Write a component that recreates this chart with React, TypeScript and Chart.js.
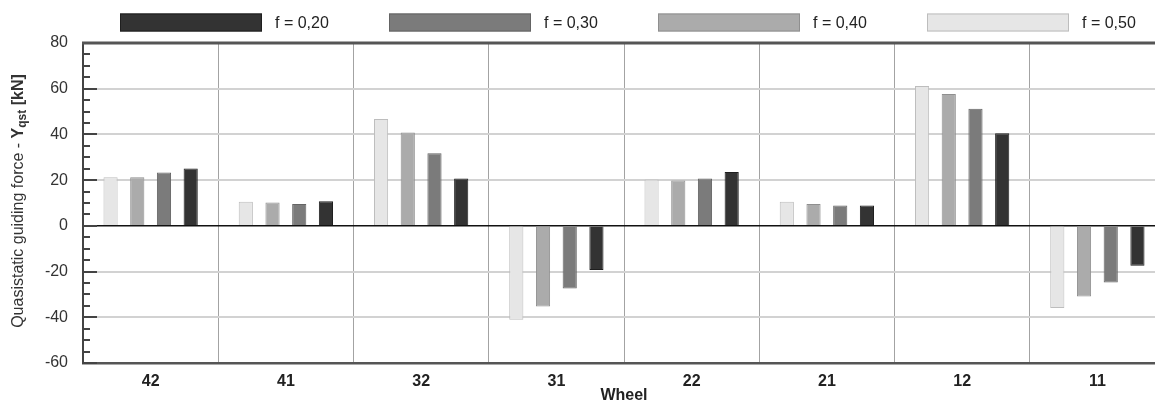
import React, { useEffect, useRef } from "react";
import { Chart, registerables } from "chart.js";

Chart.register(...registerables);

const FONT = "'Liberation Sans', Arial, Helvetica, sans-serif";

// Categories (wheel numbers)
const wheels = ["42", "41", "32", "31", "22", "21", "12", "11"];

// Series values [kN]
const f050 = [21.3, 10.6, 46.7, -41.1, 20.3, 10.5, 61.2, -35.9];
const f040 = [21.3, 10.2, 40.8, -35.3, 19.8, 9.6, 57.7, -30.9];
const f030 = [23.3, 9.6, 31.8, -27.4, 20.7, 8.9, 51.2, -24.8];
const f020 = [25.1, 10.8, 20.7, -19.3, 23.6, 8.9, 40.5, -17.4];

const seriesLabels = ["f = 0,50", "f = 0,40", "f = 0,30", "f = 0,20"];

// Axis range / ticks
const yMin = -60;
const yMax = 80;
const yStep = 20;
const yMinorStep = 5;

const xTitle = "Wheel";

const fills = ["#e6e6e6", "#ababab", "#7b7b7b", "#333333"];
const borders = ["#bdbdbd", "#8f8f8f", "#646464", "#1f1f1f"];

const overlayPlugin = {
  id: "overlay",
  afterDraw(chart: any) {
    const { ctx, chartArea } = chart;
    const y = chart.scales.y;
    ctx.save();

    // inner tick marks on y axis
    ctx.strokeStyle = "#444";
    ctx.lineWidth = 2;
    for (let v = yMin; v <= yMax; v += yMinorStep) {
      const py = Math.round(y.getPixelForValue(v));
      const len = v % yStep === 0 ? 14 : 7;
      ctx.beginPath();
      ctx.moveTo(chartArea.left, py);
      ctx.lineTo(chartArea.left + len, py);
      ctx.stroke();
    }

    // top border
    ctx.strokeStyle = "#555";
    ctx.lineWidth = 3;
    ctx.beginPath();
    ctx.moveTo(chartArea.left - 1, chartArea.top);
    ctx.lineTo(chartArea.right, chartArea.top);
    ctx.stroke();

    // y axis title with subscript
    const segs = [
      { t: "Quasistatic guiding force - ", font: `16px ${FONT}`, dy: 0 },
      { t: "Y", font: `bold 16px ${FONT}`, dy: 0 },
      { t: "qst", font: `bold 12px ${FONT}`, dy: 4 },
      { t: " [kN]", font: `bold 16px ${FONT}`, dy: 0 },
    ];
    let total = 0;
    const widths: number[] = [];
    for (const s of segs) {
      ctx.font = s.font;
      const w = ctx.measureText(s.t).width;
      widths.push(w);
      total += w;
    }
    const cx = 19;
    const cy = (chartArea.top + chartArea.bottom) / 2 - 2;
    ctx.translate(cx, cy);
    ctx.rotate(-Math.PI / 2);
    ctx.fillStyle = "#333";
    ctx.textBaseline = "middle";
    ctx.textAlign = "left";
    let x = -total / 2;
    segs.forEach((s, i) => {
      ctx.font = s.font;
      ctx.fillText(s.t, x, s.dy);
      x += widths[i];
    });
    ctx.restore();

    // legend (dark to light, left to right)
    ctx.save();
    const boxW = 142;
    const boxH = 18;
    const pitch = 269;
    const x0 = 120;
    const cyL = 22.5;
    const ds = chart.data.datasets.slice().reverse();
    ctx.font = `16px ${FONT}`;
    ctx.textBaseline = "middle";
    ctx.textAlign = "left";
    ds.forEach((d: any, i: number) => {
      const bx = x0 + i * pitch;
      ctx.fillStyle = d.backgroundColor;
      ctx.fillRect(bx, cyL - boxH / 2, boxW, boxH);
      ctx.strokeStyle = d.borderColor;
      ctx.lineWidth = 1;
      ctx.strokeRect(bx + 0.5, cyL - boxH / 2 + 0.5, boxW - 1, boxH - 1);
      ctx.fillStyle = "#222";
      ctx.fillText(d.label, bx + boxW + 13, cyL + 1);
    });
    ctx.restore();
  },
};

export default function App() {
  const ref = useRef<HTMLCanvasElement | null>(null);

  useEffect(() => {
    if (!ref.current) return;
    const series = [f050, f040, f030, f020];
    const chart = new Chart(ref.current, {
      type: "bar",
      data: {
        labels: wheels,
        datasets: series.map((vals, i) => ({
          label: seriesLabels[i],
          data: vals,
          backgroundColor: fills[i],
          borderColor: borders[i],
          borderWidth: 1,
          categoryPercentage: 0.79,
          barPercentage: 0.53,
        })),
      },
      options: {
        animation: false,
        responsive: false,
        maintainAspectRatio: false,
        layout: { padding: { top: 43, right: 10, left: 0, bottom: 0 } },
        plugins: {
          legend: { display: false },
          tooltip: { enabled: false },
          title: { display: false },
        },
        scales: {
          x: {
            grid: {
              offset: true,
              color: "#a3a3a3",
              lineWidth: 1,
              drawTicks: false,
            },
            border: { display: true, color: "#555", width: 2.5 },
            ticks: {
              font: { family: FONT, size: 16, weight: "bold" },
              color: "#222",
              padding: 9,
              maxRotation: 0,
              autoSkip: false,
            },
            title: {
              display: true,
              text: xTitle,
              font: { family: FONT, size: 16, weight: "bold" },
              color: "#222",
              padding: { top: 0, bottom: 0 },
            },
            afterFit: (s: any) => {
              s.height = 42;
            },
          },
          y: {
            min: yMin,
            max: yMax,
            ticks: {
              stepSize: yStep,
              font: { family: FONT, size: 16 },
              color: "#333",
              padding: 15,
            },
            grid: {
              color: (c: any) => (c.tick && c.tick.value === 0 ? "#111" : "#d2d2d2"),
              lineWidth: (c: any) => (c.tick && c.tick.value === 0 ? 1.5 : 2),
              drawTicks: false,
            },
            border: { display: true, color: "#444", width: 2 },
            afterFit: (s: any) => {
              s.width = 83;
            },
          },
        },
      } as any,
      plugins: [overlayPlugin],
    });
    return () => chart.destroy();
  }, []);

  return (
    <div
      style={{
        position: "fixed",
        left: 0,
        top: 0,
        width: 1155,
        height: 405,
        overflow: "hidden",
        background: "#fff",
      }}
    >
      <canvas
        ref={ref}
        width={1175}
        height={405}
        style={{ width: 1175, height: 405, display: "block" }}
      />
    </div>
  );
}
